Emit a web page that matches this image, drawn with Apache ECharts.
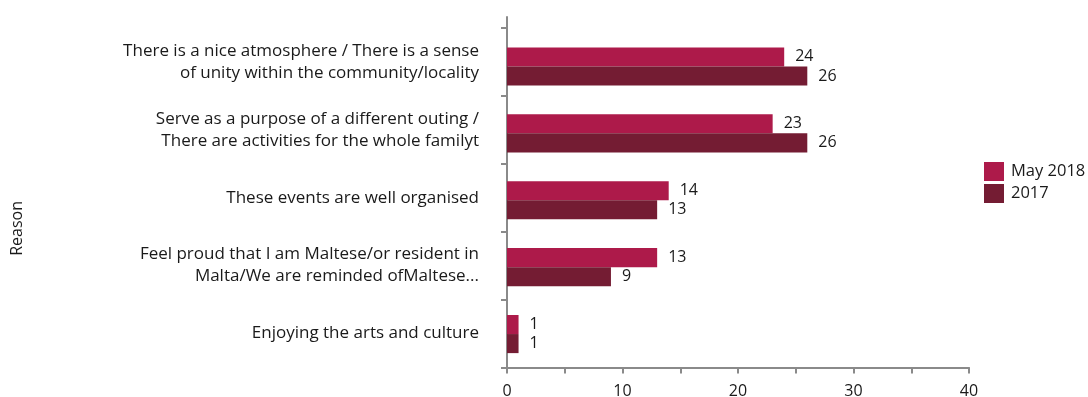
<!DOCTYPE html>
<html>
<head>
<meta charset="utf-8">
<script src="https://cdn.jsdelivr.net/npm/echarts@6/dist/echarts.min.js"></script>
<style>
  html, body { margin: 0; padding: 0; background: #fff; }
  #chart { width: 1088px; height: 397px; }
</style>
</head>
<body>
<div id="chart"></div>
<script>
// Reasons for attending, shown top to bottom
const categories = [
  'There is a nice atmosphere / There is a sense\nof unity within the community/locality',
  'Serve as a purpose of a different outing /\nThere are activities for the whole familyt',
  'These events are well organised',
  'Feel proud that I am Maltese/or resident in\nMalta/We are reminded ofMaltese...',
  'Enjoying the arts and culture'
];
const seriesNames = ['May 2018', '2017'];
const may2018 = [24, 23, 14, 13, 1];
const y2017 = [26, 26, 13, 9, 1];
const xTicks = [0, 10, 20, 30, 40];

const FONT = '"Open Sans", "Noto Sans", sans-serif';
const AXIS_GREY = '#8a8a8a';
const TEXT = '#1a1a1a';
const COLORS = ['#ad1a4a', '#741c33'];
const X_MIN = xTicks[0];
const X_MAX = xTicks[xTicks.length - 1];

const chart = echarts.init(document.getElementById('chart'), null, { renderer: 'canvas' });

const labelCfg = {
  show: true,
  position: 'right',
  distance: 11,
  color: TEXT,
  fontFamily: FONT,
  fontSize: 16
};

const hiddenAxis = {
  axisLine: { show: false },
  axisTick: { show: false },
  axisLabel: { show: false },
  splitLine: { show: false }
};

const gridBase = { left: 507, right: 119, bottom: 29.5, containLabel: false, outerBoundsMode: 'none' };

chart.setOption({
  animation: false,
  textStyle: { fontFamily: FONT },
  grid: [
    // frame: visible axes, ticks and labels
    Object.assign({ top: 28 }, gridBase),
    // bars (plotted slightly lower inside the frame)
    Object.assign({ top: 33 }, gridBase),
    // vertical axis line, running a little above the first tick
    Object.assign({ top: 17 }, gridBase)
  ],
  legend: {
    orient: 'vertical',
    left: 979,
    top: 157,
    icon: 'rect',
    itemWidth: 20,
    itemHeight: 19,
    itemGap: 3,
    textStyle: { fontFamily: FONT, fontSize: 16.5, color: TEXT, padding: [0, 0, 0, 2] },
    data: seriesNames
  },
  xAxis: [
    {
      gridIndex: 0,
      type: 'value',
      min: X_MIN,
      max: X_MAX,
      interval: 5,
      axisLine: { show: true, lineStyle: { color: AXIS_GREY, width: 2 } },
      axisTick: { show: true, length: 6, lineStyle: { color: AXIS_GREY, width: 2 } },
      splitLine: { show: false },
      axisLabel: {
        margin: 16,
        color: TEXT,
        fontFamily: FONT,
        fontSize: 16,
        formatter: v => (xTicks.includes(v) ? String(v) : '')
      }
    },
    Object.assign({ gridIndex: 1, type: 'value', min: X_MIN, max: X_MAX }, hiddenAxis),
    Object.assign({ gridIndex: 2, type: 'value', min: X_MIN, max: X_MAX }, hiddenAxis)
  ],
  yAxis: [
    {
      gridIndex: 0,
      type: 'category',
      inverse: true,
      data: categories,
      axisLine: { show: false },
      axisTick: { show: true, length: 6, lineStyle: { color: AXIS_GREY, width: 2 } },
      axisLabel: {
        margin: 28,
        color: TEXT,
        fontFamily: FONT,
        fontSize: 17,
        lineHeight: 22,
        align: 'right'
      }
    },
    Object.assign({ gridIndex: 1, type: 'category', inverse: true, data: categories }, hiddenAxis),
    Object.assign({ gridIndex: 2, type: 'value', min: 0, max: 1 }, hiddenAxis, {
      axisLine: { show: true, lineStyle: { color: AXIS_GREY, width: 2 } }
    })
  ],
  graphic: [{
    type: 'text',
    left: 9,
    top: 201,
    rotation: Math.PI / 2,
    style: { text: 'Reason', fontFamily: FONT, fontSize: 16, fill: TEXT }
  }],
  series: [
    {
      name: seriesNames[0],
      type: 'bar',
      xAxisIndex: 1,
      yAxisIndex: 1,
      data: may2018,
      itemStyle: { color: COLORS[0] },
      barGap: '0%',
      barCategoryGap: '43%',
      label: labelCfg
    },
    {
      name: seriesNames[1],
      type: 'bar',
      xAxisIndex: 1,
      yAxisIndex: 1,
      data: y2017,
      itemStyle: { color: COLORS[1] },
      barGap: '0%',
      barCategoryGap: '43%',
      label: labelCfg
    }
  ]
});
</script>
</body>
</html>
